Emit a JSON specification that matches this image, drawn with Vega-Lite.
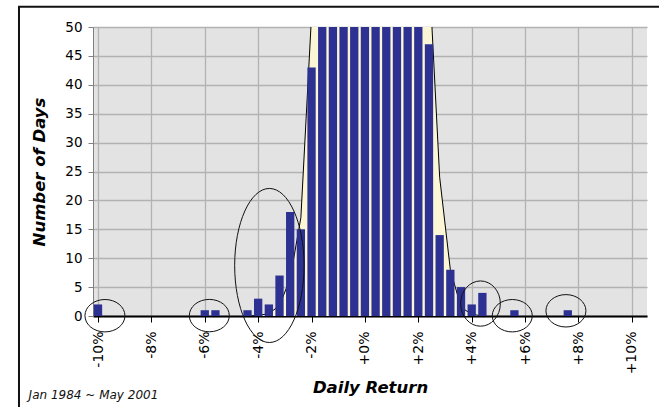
{
  "$schema": "https://vega.github.io/schema/vega-lite/v6.json",
  "width": 554,
  "height": 289,
  "autosize": {"type": "none"},
  "padding": {"left": 93, "top": 27, "right": 12, "bottom": 91},
  "config": {
    "view": {"fill": "#E3E3E3", "stroke": null},
    "font": "DejaVu Sans",
    "axis": {"labelFont": "DejaVu Sans", "titleFont": "DejaVu Sans"}
  },
  "datasets": {
    "histogram": [
      {"ret": -10.0, "days": 2},
      {"ret": -6.0, "days": 1},
      {"ret": -5.6, "days": 1},
      {"ret": -4.4, "days": 1},
      {"ret": -4.0, "days": 3},
      {"ret": -3.6, "days": 2},
      {"ret": -3.2, "days": 7},
      {"ret": -2.8, "days": 18},
      {"ret": -2.4, "days": 15},
      {"ret": -2.0, "days": 43},
      {"ret": -1.6, "days": 95},
      {"ret": -1.2, "days": 200},
      {"ret": -0.8, "days": 400},
      {"ret": -0.4, "days": 700},
      {"ret": 0.0, "days": 880},
      {"ret": 0.4, "days": 820},
      {"ret": 0.8, "days": 600},
      {"ret": 1.2, "days": 330},
      {"ret": 1.6, "days": 170},
      {"ret": 2.0, "days": 80},
      {"ret": 2.4, "days": 47},
      {"ret": 2.8, "days": 14},
      {"ret": 3.2, "days": 8},
      {"ret": 3.6, "days": 5},
      {"ret": 4.0, "days": 2},
      {"ret": 4.4, "days": 4},
      {"ret": 5.6, "days": 1},
      {"ret": 7.6, "days": 1}
    ],
    "curve": [
      {"ret": -4.4, "days": 0},
      {"ret": -4.0, "days": 0.1},
      {"ret": -3.6, "days": 0.4},
      {"ret": -3.2, "days": 1.8},
      {"ret": -2.8, "days": 6.5},
      {"ret": -2.4, "days": 17},
      {"ret": -2.0, "days": 52},
      {"ret": -1.6, "days": 140},
      {"ret": -1.2, "days": 290},
      {"ret": -0.8, "days": 480},
      {"ret": -0.4, "days": 640},
      {"ret": 0.0, "days": 720},
      {"ret": 0.4, "days": 720},
      {"ret": 0.8, "days": 640},
      {"ret": 1.2, "days": 480},
      {"ret": 1.6, "days": 290},
      {"ret": 2.0, "days": 140},
      {"ret": 2.4, "days": 60},
      {"ret": 2.8, "days": 24},
      {"ret": 3.2, "days": 8},
      {"ret": 3.6, "days": 1.5},
      {"ret": 4.0, "days": 0.3},
      {"ret": 4.4, "days": 0}
    ],
    "ellipses": [
      {"ret": -9.74, "days": 0.05, "kind": "small"},
      {"ret": -5.83, "days": 0.07, "kind": "small"},
      {"ret": 5.52, "days": 0.05, "kind": "small"},
      {"ret": 7.53, "days": 0.9, "kind": "small"},
      {"ret": 4.33, "days": 2.15, "kind": "medium"},
      {"ret": -3.58, "days": 8.74, "kind": "large"}
    ]
  },
  "layer": [
    {
      "data": {"name": "curve"},
      "mark": {"type": "area", "clip": true, "color": "#FAF6D6", "opacity": 1, "line": {"color": "#000000", "strokeWidth": 1}},
      "encoding": {
        "x": {
          "field": "ret", "type": "quantitative",
          "scale": {"domain": [-10, 10.38], "nice": false, "zero": false},
          "axis": {
            "values": [-10, -8, -6, -4, -2, 0, 2, 4, 6, 8, 10],
            "tickCount": 12,
            "labelExpr": "(datum.value >= 0 ? '+' : '') + datum.value + '%'",
            "labelAngle": 270, "labelFontSize": 14, "labelColor": "#000000", "labelPadding": 9,
            "labelFlush": false, "labelOverlap": false, "labelBound": false,
            "tickSize": 6, "tickColor": "#000000", "tickWidth": 1,
            "domainColor": "#000000", "domainWidth": 2,
            "grid": true, "gridColor": "#B2B2B2", "gridWidth": 1.3,
            "title": "Daily Return", "titleFontSize": 16.5, "titleFontWeight": "bold", "titleFontStyle": "italic",
            "titleColor": "#000000", "titlePadding": 6
          }
        },
        "y": {
          "field": "days", "type": "quantitative",
          "scale": {"domain": [0, 50], "nice": false, "zero": true},
          "axis": {
            "values": [0, 5, 10, 15, 20, 25, 30, 35, 40, 45, 50],
            "tickCount": 12,
            "labelOverlap": false,
            "labelFontSize": 13.5, "labelColor": "#000000", "labelPadding": 6,
            "tickSize": 5, "tickColor": "#808080", "domainColor": "#808080", "domainWidth": 1,
            "grid": true, "gridColor": "#B2B2B2", "gridWidth": 1.3,
            "title": "Number of Days", "titleFontSize": 16.5, "titleFontWeight": "bold", "titleFontStyle": "italic",
            "titleColor": "#000000", "titlePadding": 17
          }
        }
      }
    },
    {
      "data": {"name": "histogram"},
      "transform": [{"filter": "datum.days > 50"}],
      "mark": {"type": "bar", "clip": true, "size": 8.3, "color": "#2D3192"},
      "encoding": {
        "x": {"field": "ret", "type": "quantitative"},
        "y": {"field": "days", "type": "quantitative"}
      }
    },
    {
      "data": {"name": "histogram"},
      "transform": [{"filter": "datum.days <= 50"}],
      "mark": {"type": "bar", "clip": false, "size": 8.3, "color": "#2D3192"},
      "encoding": {
        "x": {"field": "ret", "type": "quantitative"},
        "y": {"field": "days", "type": "quantitative"}
      }
    },
    {
      "data": {"name": "ellipses"},
      "transform": [{"filter": "datum.kind == 'small'"}],
      "mark": {"type": "point", "shape": "M-1,0A1,0.81,0,1,1,1,0A1,0.81,0,1,1,-1,0Z", "size": 1600, "filled": false, "color": "#111111", "strokeWidth": 1, "opacity": 1},
      "encoding": {
        "x": {"field": "ret", "type": "quantitative"},
        "y": {"field": "days", "type": "quantitative"}
      }
    },
    {
      "data": {"name": "ellipses"},
      "transform": [{"filter": "datum.kind == 'medium'"}],
      "mark": {"type": "point", "shape": "M-1,0A1,1.14,0,1,1,1,0A1,1.14,0,1,1,-1,0Z", "size": 1576, "filled": false, "color": "#111111", "strokeWidth": 1, "opacity": 1},
      "encoding": {
        "x": {"field": "ret", "type": "quantitative"},
        "y": {"field": "days", "type": "quantitative"}
      }
    },
    {
      "data": {"name": "ellipses"},
      "transform": [{"filter": "datum.kind == 'large'"}],
      "mark": {"type": "point", "shape": "M-1,0A1,2.22,0,1,1,1,0A1,2.22,0,1,1,-1,0Z", "size": 4816, "filled": false, "color": "#111111", "strokeWidth": 1, "opacity": 1},
      "encoding": {
        "x": {"field": "ret", "type": "quantitative"},
        "y": {"field": "days", "type": "quantitative"}
      }
    },
    {
      "data": {"values": [{"note": "Jan 1984 ~ May 2001"}]},
      "mark": {"type": "text", "align": "left", "baseline": "alphabetic", "font": "DejaVu Sans", "fontStyle": "italic", "fontSize": 12, "color": "#111111"},
      "encoding": {
        "x": {"datum": -12.6, "type": "quantitative"},
        "y": {"datum": -14.3, "type": "quantitative"},
        "text": {"field": "note"}
      }
    },
    {
      "data": {"values": [{"frame": "outer"}]},
      "mark": {"type": "rect", "fillOpacity": 0, "fill": "#ffffff", "stroke": "#111111", "strokeWidth": 2},
      "encoding": {
        "x": {"datum": -12.96, "type": "quantitative"},
        "x2": {"datum": 14},
        "y": {"datum": 53.5, "type": "quantitative"},
        "y2": {"datum": -20}
      }
    }
  ]
}
